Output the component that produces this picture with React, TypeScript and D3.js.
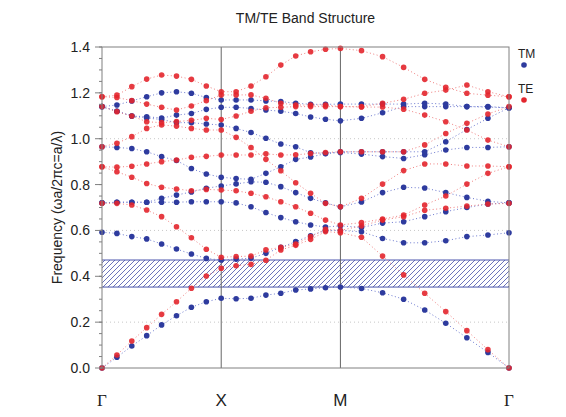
import React from "react";
import * as d3 from "d3";

// k-path: 25 points, 8 steps per segment (Γ-X, X-M, M-Γ)
const kLabels = ["Γ", "X", "M", "Γ"];
const kLabelIndex = [0, 8, 16, 24];
const yTicks = [0, 0.2, 0.4, 0.6, 0.8, 1.0, 1.2, 1.4];
const gridValues = [0.2, 0.6, 1.0];
const gapRange = [0.353, 0.471];

const tm1 = [0, 0.047, 0.096, 0.141, 0.188, 0.228, 0.265, 0.289, 0.304, 0.302, 0.304, 0.318, 0.326, 0.34, 0.345, 0.35, 0.353, 0.347, 0.328, 0.3, 0.253, 0.195, 0.132, 0.068, 0];
const tm2 = [0.592, 0.587, 0.573, 0.563, 0.541, 0.519, 0.497, 0.478, 0.471, 0.475, 0.479, 0.5, 0.526, 0.551, 0.577, 0.6, 0.6, 0.594, 0.565, 0.546, 0.546, 0.555, 0.573, 0.58, 0.59];
const tm3 = [0.72, 0.723, 0.723, 0.723, 0.723, 0.723, 0.725, 0.725, 0.725, 0.72, 0.703, 0.678, 0.656, 0.638, 0.624, 0.615, 0.62, 0.613, 0.632, 0.638, 0.66, 0.682, 0.7, 0.715, 0.72];
const tm4 = [0.72, 0.723, 0.723, 0.723, 0.74, 0.754, 0.768, 0.784, 0.794, 0.803, 0.812, 0.81, 0.791, 0.765, 0.74, 0.72, 0.703, 0.724, 0.765, 0.788, 0.785, 0.765, 0.744, 0.727, 0.72];
const tm5 = [0.965, 0.962, 0.957, 0.943, 0.922, 0.905, 0.87, 0.846, 0.832, 0.826, 0.823, 0.849, 0.878, 0.91, 0.92, 0.935, 0.94, 0.933, 0.922, 0.914, 0.93, 0.951, 0.962, 0.962, 0.965];
const tm6 = [1.14, 1.12, 1.099, 1.09, 1.084, 1.07, 1.07, 1.064, 1.06, 1.045, 1.027, 1.002, 0.977, 0.965, 0.939, 0.936, 0.943, 0.943, 0.943, 0.943, 0.943, 0.987, 1.04, 1.089, 1.135];
const tm7 = [1.14, 1.12, 1.099, 1.096, 1.09, 1.103, 1.11, 1.128, 1.137, 1.137, 1.132, 1.125, 1.12, 1.11, 1.095, 1.085, 1.078, 1.089, 1.113, 1.14, 1.14, 1.14, 1.14, 1.138, 1.135];
const tm8 = [1.14, 1.147, 1.165, 1.183, 1.2, 1.205, 1.198, 1.18, 1.169, 1.169, 1.169, 1.165, 1.162, 1.155, 1.15, 1.15, 1.151, 1.151, 1.151, 1.151, 1.155, 1.151, 1.14, 1.14, 1.135];

const te1 = [0, 0.057, 0.118, 0.176, 0.234, 0.289, 0.348, 0.401, 0.435, 0.446, 0.452, 0.47, 0.515, 0.535, 0.561, 0.595, 0.59, 0.57, 0.488, 0.406, 0.326, 0.246, 0.163, 0.08, 0];
const te2 = [0.718, 0.718, 0.711, 0.689, 0.66, 0.616, 0.568, 0.518, 0.483, 0.486, 0.488, 0.515, 0.526, 0.541, 0.573, 0.605, 0.6, 0.62, 0.645, 0.66, 0.688, 0.697, 0.706, 0.715, 0.718];
const te3 = [0.878, 0.856, 0.832, 0.805, 0.788, 0.781, 0.773, 0.779, 0.776, 0.773, 0.762, 0.747, 0.725, 0.703, 0.675, 0.645, 0.624, 0.634, 0.65, 0.667, 0.711, 0.75, 0.802, 0.849, 0.878];
const te4 = [0.878, 0.876, 0.88, 0.89, 0.9, 0.907, 0.919, 0.923, 0.929, 0.929, 0.929, 0.934, 0.929, 0.93, 0.935, 0.94, 0.943, 0.943, 0.943, 0.943, 0.973, 1.023, 1.067, 1.108, 1.14];
const te5 = [0.965, 0.98, 1.009, 1.045, 1.06, 1.055, 1.045, 1.038, 1.038, 1.006, 0.962, 0.91, 0.86, 0.808, 0.762, 0.718, 0.703, 0.74, 0.802, 0.861, 0.89, 0.89, 0.881, 0.881, 0.878];
const te6 = [1.14, 1.118, 1.099, 1.074, 1.07, 1.075, 1.08, 1.089, 1.084, 1.099, 1.12, 1.135, 1.137, 1.14, 1.14, 1.14, 1.14, 1.138, 1.138, 1.129, 1.103, 1.074, 1.038, 0.994, 0.965];
const te7 = [1.183, 1.18, 1.166, 1.151, 1.137, 1.125, 1.143, 1.166, 1.191, 1.191, 1.191, 1.176, 1.155, 1.147, 1.147, 1.147, 1.14, 1.14, 1.154, 1.172, 1.198, 1.212, 1.234, 1.205, 1.183];
const te8 = [1.183, 1.19, 1.227, 1.26, 1.278, 1.273, 1.259, 1.23, 1.205, 1.205, 1.23, 1.27, 1.321, 1.361, 1.379, 1.39, 1.394, 1.384, 1.358, 1.311, 1.259, 1.224, 1.198, 1.19, 1.183];

const tmBands = [tm1, tm2, tm3, tm4, tm5, tm6, tm7, tm8];
const teBands = [te1, te2, te3, te4, te5, te6, te7, te8];

const W = 566;
const H = 417;
const L = 102, R = 509, T = 47, B = 368;
const BLUE = "#2e3b9e";
const RED = "#e3262d";
const FONT = "'Liberation Sans', Arial, sans-serif";

// path distance for k index
function kDist(i: number): number {
  if (i <= 8) return i / 8;
  if (i <= 16) return 1 + (i - 8) / 8;
  return 2 + (Math.SQRT2 * (i - 16)) / 8;
}

export default function App() {
  const x = d3.scaleLinear().domain([0, 2 + Math.SQRT2]).range([L, R]);
  const y = d3.scaleLinear().domain([0, 1.4]).range([B, T]);
  const line = d3
    .line<number>()
    .x((_, i) => x(kDist(i)))
    .y((v) => y(v));
  const minorTicks = d3.range(0, 1.4001, 0.05);

  const renderBands = (bands: number[][], lineColor: string, key: string) => (
    <g key={key}>
      {bands.map((b, bi) => (
        <path
          key={"l" + bi}
          d={line(b) || ""}
          fill="none"
          stroke={lineColor}
          strokeWidth={1}
          strokeDasharray="1,2.5"
        />
      ))}
    </g>
  );
  const renderDots = (bands: number[][], color: string, key: string, op: number) => (
    <g key={key}>
      {bands.map((b, bi) =>
        b.map((v, i) => (
          <circle key={bi + "-" + i} cx={x(kDist(i))} cy={y(v)} r={2.8} fill={color} fillOpacity={op} />
        ))
      )}
    </g>
  );

  return (
    <svg width={W} height={H} style={{ position: "absolute", left: 0, top: 0, background: "#fff" }} fontFamily={FONT}>
      <defs>
        <pattern id="hatch" patternUnits="userSpaceOnUse" width={5} height={5}>
          <path d="M-1,1 L1,-1 M0,5 L5,0 M4,6 L6,4" stroke="#5b64b4" strokeWidth={0.9} />
        </pattern>
      </defs>
      <rect width={W} height={H} fill="#fff" />
      <text x={(L + R) / 2} y={23} textAnchor="middle" fontSize={14} fill="#222">
        TM/TE Band Structure
      </text>

      {/* grid */}
      {gridValues.map((t) => (
        <line key={"g" + t} x1={L} x2={R} y1={y(t)} y2={y(t)} stroke="#c8c8c8" strokeDasharray="1,3" />
      ))}

      {/* band gap */}
      <rect x={L} width={R - L} y={y(gapRange[1])} height={y(gapRange[0]) - y(gapRange[1])} fill="url(#hatch)" />
      <line x1={L} x2={R} y1={y(gapRange[1])} y2={y(gapRange[1])} stroke="#4a54ac" strokeWidth={1} />
      <line x1={L} x2={R} y1={y(gapRange[0])} y2={y(gapRange[0])} stroke="#4a54ac" strokeWidth={1} />

      {/* symmetry lines */}
      {kLabelIndex.slice(1, 3).map((k) => (
        <line key={"v" + k} x1={x(kDist(k))} x2={x(kDist(k))} y1={T} y2={B} stroke="#666" strokeWidth={1} />
      ))}

      {renderBands(tmBands, "#6d7ad0", "tml")}
      {renderBands(teBands, "#f08080", "tel")}
      {renderDots(tmBands, BLUE, "tmd", 1)}
      {renderDots(teBands, RED, "ted", 0.9)}

      {/* frame */}
      <rect x={L} y={T} width={R - L} height={B - T} fill="none" stroke="#808080" strokeWidth={1} />

      {/* y axis ticks */}
      {minorTicks.map((t, i) => (
        <line key={"m" + i} x1={L - 3} x2={L} y1={y(t)} y2={y(t)} stroke="#808080" />
      ))}
      {yTicks.map((t) => (
        <g key={"t" + t}>
          <line x1={L - 7} x2={L} y1={y(t)} y2={y(t)} stroke="#808080" />
          <text x={L - 12} y={y(t) + 5} textAnchor="end" fontSize={14} fill="#222">
            {t.toFixed(1)}
          </text>
        </g>
      ))}
      <text
        transform={`translate(62,${(T + B) / 2}) rotate(-90)`}
        textAnchor="middle"
        fontSize={14}
        fill="#222"
      >
        Frequency (ωa/2πc=a/λ)
      </text>

      {/* k labels */}
      {kLabels.map((lab, i) => (
        <text
          key={"k" + i}
          x={x(kDist(kLabelIndex[i]))}
          y={406}
          textAnchor="middle"
          fontSize={17}
          fontFamily={lab === "Γ" ? "'Liberation Serif', 'DejaVu Serif', serif" : FONT}
          fill="#222"
        >
          {lab}
        </text>
      ))}

      {/* legend */}
      <text x={518} y={58} fontSize={12} fill="#222">TM</text>
      <circle cx={524} cy={65} r={2.8} fill={BLUE} />
      <text x={518} y={93} fontSize={12} fill="#222">TE</text>
      <circle cx={524} cy={100} r={2.8} fill={RED} />
    </svg>
  );
}
